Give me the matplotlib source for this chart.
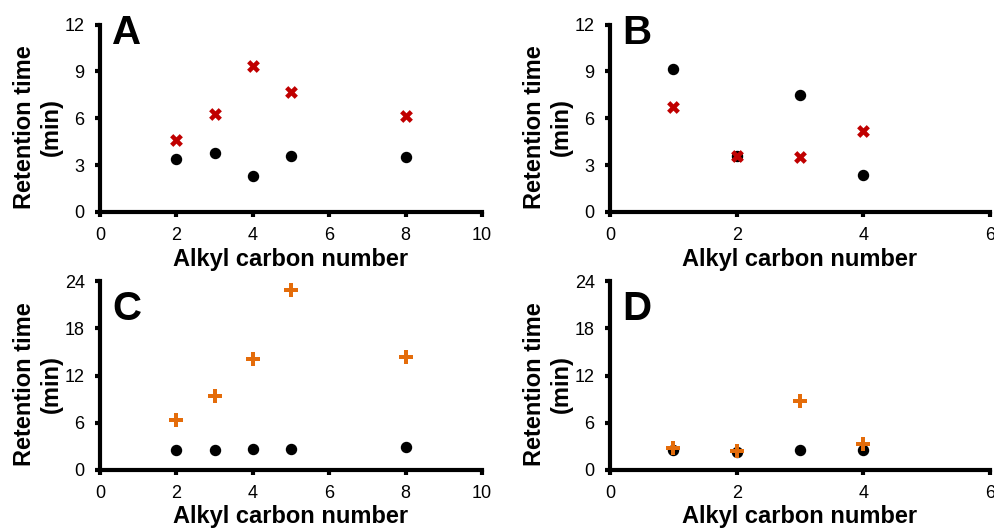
import matplotlib
matplotlib.use("Agg")
import matplotlib.pyplot as plt

plt.rcParams['font.family'] = ['Liberation Sans', 'DejaVu Sans']

# Panel A
a_x = [2, 3, 4, 5, 8]
a_circle = [3.4, 3.8, 2.3, 3.6, 3.5]
a_cross = [4.6, 6.25, 9.35, 7.65, 6.15]
# Panel B
b_x = [1, 2, 3, 4]
b_circle = [9.15, 3.6, 7.5, 2.35]
b_cross = [6.7, 3.6, 3.5, 5.2]
# Panel C
c_x = [2, 3, 4, 5, 8]
c_circle = [2.6, 2.6, 2.7, 2.7, 2.9]
c_plus = [6.4, 9.4, 14.05, 22.9, 14.3]
# Panel D
d_x = [1, 2, 3, 4]
d_circle = [2.55, 2.3, 2.6, 2.5]
d_plus = [2.8, 2.35, 8.75, 3.3]

W, H = 995, 528
fig = plt.figure(figsize=(W / 100, H / 100), dpi=100)

def add_ax(l, r, t, b):
    return fig.add_axes([l / W, 1 - b / H, (r - l) / W, (b - t) / H])

axA = add_ax(100, 482, 24.5, 212)
axB = add_ax(610, 990, 24.5, 212)
axC = add_ax(100, 482, 281, 470)
axD = add_ax(610, 990, 281, 470)

red = '#C00000'
orange = '#E46C0A'

def style(ax, xmax, ymax, ystep, letter, letter_y, xlabel_baseline):
    ax.set_xlim(0, xmax)
    ax.set_ylim(0, ymax)
    ax.set_xticks(range(0, xmax + 1, 2))
    ax.set_yticks(range(0, ymax + 1, ystep))
    for s in ['top', 'right']:
        ax.spines[s].set_visible(False)
    for s in ['left', 'bottom']:
        ax.spines[s].set_linewidth(3)
    ax.tick_params(axis='both', direction='out', length=3.5, width=3,
                   labelsize=13, pad=7.5)
    ax.set_ylabel('Retention time\n(min)', fontsize=17, fontweight='bold',
                  linespacing=1.2)
    bb = ax.get_position()
    ax.yaxis.set_label_coords(-37 / (bb.width * W), 0.455)
    fig.text((bb.x0 + bb.x1) / 2, 1 - xlabel_baseline / H, 'Alkyl carbon number',
             fontsize=17, fontweight='bold', ha='center', va='baseline')
    ax.text(12 / (bb.width * W), letter_y, letter, transform=ax.transAxes,
            fontsize=29, fontweight='bold', va='top', ha='left')

axA.scatter(a_x, a_circle, s=52, color='black', marker='o', clip_on=False, zorder=3)
axA.scatter(a_x, a_cross, s=85, color=red, marker='X', linewidths=0, clip_on=False, zorder=4)
style(axA, 10, 12, 3, 'A', 1 + 11 / 187.5, 266)

axB.scatter(b_x, b_circle, s=52, color='black', marker='o', clip_on=False, zorder=3)
axB.scatter(b_x, b_cross, s=85, color=red, marker='X', linewidths=0, clip_on=False, zorder=4)
style(axB, 6, 12, 3, 'B', 1 + 11 / 187.5, 266)

axC.scatter(c_x, c_circle, s=52, color='black', marker='o', clip_on=False, zorder=3)
axC.scatter(c_x, c_plus, s=95, color=orange, marker='P', linewidths=0, clip_on=False, zorder=4)
style(axC, 10, 24, 6, 'C', 1 - 9 / 189, 523)

axD.scatter(d_x, d_circle, s=52, color='black', marker='o', clip_on=False, zorder=3)
axD.scatter(d_x, d_plus, s=95, color=orange, marker='P', linewidths=0, clip_on=False, zorder=4)
style(axD, 6, 24, 6, 'D', 1 - 9 / 189, 523)

fig.savefig('out.png', dpi=100)
